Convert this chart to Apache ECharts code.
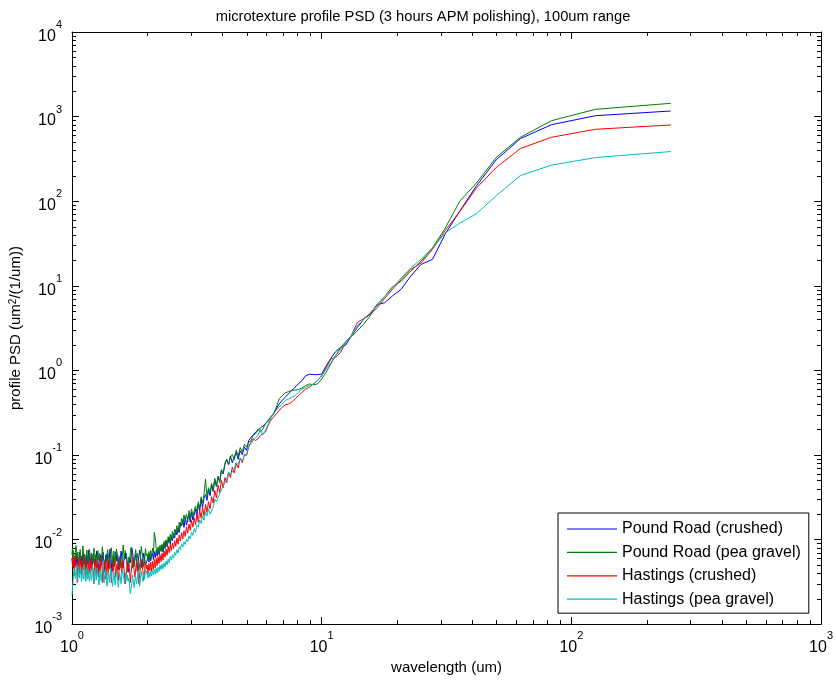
<!DOCTYPE html>
<html><head><meta charset="utf-8">
<script src="https://cdn.jsdelivr.net/npm/echarts@6/dist/echarts.min.js"></script>
<style>html,body{margin:0;padding:0;background:#fff}#c{width:836px;height:680px}</style>
</head><body><div id="c"></div>
<script>
// wavelength (um) of each PSD bin
const wavelength = [250,125,83.33,62.5,50,41.67,35.71,31.25,27.78,25,22.73,20.83,19.23,17.86,16.67,15.63,14.71,13.89,13.16,12.5,
11.9,11.36,10.87,10.42,10,9.615,9.259,8.929,8.621,8.333,8.065,7.813,7.576,7.353,7.143,6.944,6.757,6.579,6.41,6.25,
6.098,5.952,5.814,5.682,5.556,5.435,5.319,5.208,5.102,5,4.902,4.808,4.717,4.63,4.545,4.464,4.386,4.31,4.237,4.167,
4.098,4.032,3.968,3.906,3.846,3.788,3.731,3.676,3.623,3.571,3.521,3.472,3.425,3.378,3.333,3.289,3.247,3.205,3.165,3.125,
3.086,3.049,3.012,2.976,2.941,2.907,2.874,2.841,2.809,2.778,2.747,2.717,2.688,2.66,2.632,2.604,2.577,2.551,2.525,2.5,
2.475,2.451,2.427,2.404,2.381,2.358,2.336,2.315,2.294,2.273,2.252,2.232,2.212,2.193,2.174,2.155,2.137,2.119,2.101,2.083,
2.066,2.049,2.033,2.016,2,1.984,1.969,1.953,1.938,1.923,1.908,1.894,1.88,1.866,1.852,1.838,1.825,1.812,1.799,1.786,
1.773,1.761,1.748,1.736,1.724,1.712,1.701,1.689,1.678,1.667,1.656,1.645,1.634,1.623,1.613,1.603,1.592,1.582,1.572,1.563,
1.553,1.543,1.534,1.524,1.515,1.506,1.497,1.488,1.479,1.471,1.462,1.453,1.445,1.437,1.429,1.42,1.412,1.404,1.397,1.389,
1.381,1.374,1.366,1.359,1.351,1.344,1.337,1.33,1.323,1.316,1.309,1.302,1.295,1.289,1.282,1.276,1.269,1.263,1.256,1.25,
1.244,1.238,1.232,1.225,1.22,1.214,1.208,1.202,1.196,1.19,1.185,1.179,1.174,1.168,1.163,1.157,1.152,1.147,1.142,1.136,
1.131,1.126,1.121,1.116,1.111,1.106,1.101,1.096,1.092,1.087,1.082,1.078,1.073,1.068,1.064,1.059,1.055,1.05,1.046,1.042,
1.037,1.033,1.029,1.025,1.02,1.016,1.012,1.008,1.004,1];

const poundCrushed = [1164,1025,803,549,308,152,76,41,20.5,17.9,13.0,9.1,7.6,6.3,6.0,4.6,4.0,3.2,2.56,2.0,
1.87,1.66,1.38,1.13,0.90,0.89,0.89,0.90,0.86,0.755,0.69,0.63,0.575,0.526,0.48,0.44,0.40,0.35,0.305,0.28,
0.255,0.233,0.219,0.209,0.194,0.186,0.173,0.162,0.148,0.113,
0.124,0.101,0.112,0.089,0.107,0.094,0.081,0.097,0.076,0.088,
0.078,0.06,0.066,0.049,0.056,0.043,0.051,0.037,0.044,0.033,
0.039,0.029,0.034,0.031,0.024,0.03,0.022,0.026,0.019,0.023,
0.022,0.017,0.021,0.016,0.02,0.018,0.0148,0.0182,0.0139,0.0172,
0.0145,0.0158,0.0121,0.0137,0.0113,0.0129,0.0104,0.0118,0.0097,0.0111,
0.0089,0.0106,0.0093,0.0082,0.0098,0.0078,0.0091,0.0071,0.0085,0.0074,
0.0081,0.0066,0.0078,0.0064,0.0074,0.0061,0.0072,0.0058,0.0069,0.0063,0.0056,0.0067,0.0054,0.0064,0.0057,
0.006,0.005,0.0059,0.0069,0.0057,0.0046,0.0053,0.0064,0.0075,0.0062,
0.0051,0.0042,0.0055,0.0066,0.0059,0.0048,0.0057,0.0071,0.008,0.0064,
0.0053,0.006,0.005,0.0041,0.0051,0.0062,0.0069,0.0059,0.0068,0.0055,
0.0046,0.0053,0.0062,0.0073,0.006,0.005,0.0044,0.0057,0.0066,0.0055,
0.0062,0.0071,0.0059,0.0048,0.0055,0.0064,0.0051,0.0042,0.0053,0.0068,
0.0077,0.0062,0.0055,0.0046,0.0059,0.0068,0.0057,0.0066,0.0053,0.0044,
0.0055,0.006,0.0071,0.0059,0.005,0.0057,0.0066,0.0055,0.0062,0.0051,
0.0041,0.0053,0.0064,0.0073,0.006,0.0051,0.0059,0.0048,0.0057,0.0068,
0.0059,0.005,0.006,0.0069,0.0055,0.0046,0.0053,0.0062,0.0075,0.006,
0.0051,0.0057,0.0064,0.0053,0.0044,0.0055,0.0066,0.0059,0.005,0.006,
0.0069,0.0057,0.0048,0.0055,0.0064,0.0053,0.006,0.0071,0.0059,0.005,
0.0044,0.0055,0.0062,0.0051,0.0059,0.0068,0.0057,0.0048,0.0053,0.0062,
0.0055,0.0046,0.0057,0.005,0.006];

const poundPea = [1435,1219,895,570,328,164,99.5,48,28,19.5,14.9,11.35,9.75,7.45,6.0,4.4,3.5,2.93,2.5,2.2,
1.85,1.49,1.19,0.95,0.79,0.69,0.675,0.69,0.66,0.62,0.59,0.585,0.575,0.56,0.54,0.50,0.46,0.366,0.305,0.28,
0.25,0.235,0.203,0.186,0.203,0.178,0.17,0.148,0.142,0.124,
0.134,0.108,0.122,0.097,0.114,0.088,0.101,0.094,0.077,0.089,
0.08,0.06,0.067,0.047,0.055,0.042,0.053,0.038,0.046,0.036,
0.041,0.032,0.052,0.034,0.027,0.032,0.023,0.028,0.021,0.025,
0.024,0.019,0.023,0.018,0.022,0.016,0.02,0.017,0.0195,0.015,
0.0178,0.0139,0.016,0.0123,0.0146,0.0115,0.0133,0.0104,0.0125,0.0099,
0.0115,0.0092,0.0108,0.0086,0.0099,0.0081,0.0095,0.0075,0.0088,0.0072,
0.0086,0.007,0.0082,0.0066,0.0078,0.0104,0.0122,0.0069,0.0079,0.0062,0.0074,0.0058,0.0072,0.0056,0.0068,
0.0064,0.0078,0.0055,0.0047,0.0061,0.0072,0.0083,0.0058,0.005,0.0043,
0.0056,0.0069,0.0059,0.0076,0.0064,0.0049,0.0057,0.0046,0.0066,0.0081,
0.007,0.0055,0.0062,0.005,0.0042,0.0055,0.0066,0.0074,0.0058,0.0068,
0.0086,0.0065,0.0053,0.0046,0.0058,0.0063,0.0051,0.0044,0.0057,0.0071,
0.0077,0.0063,0.0052,0.006,0.0073,0.0049,0.0058,0.0069,0.008,0.006,
0.005,0.0045,0.0058,0.0067,0.0076,0.0062,0.0054,0.0064,0.0049,0.0041,
0.0055,0.0061,0.0072,0.0082,0.0065,0.0056,0.0047,0.0059,0.0069,0.0057,
0.0062,0.0074,0.0054,0.0045,0.0052,0.0066,0.0059,0.007,0.0079,0.0063,
0.0053,0.0058,0.0067,0.0056,0.0046,0.0055,0.0069,0.0077,0.006,0.005,
0.0058,0.0064,0.0075,0.0062,0.0053,0.0044,0.0057,0.0067,0.0059,0.0071,
0.0084,0.0067,0.0057,0.0049,0.0056,0.0064,0.0076,0.0062,0.0054,0.0047,
0.006,0.0071,0.0057,0.0066,0.0077,0.0085,0.007,0.0058,0.0063,0.0055,
0.0067,0.0074,0.0061,0.0079,0.0066];

const hastingsCrushed = [796,708,570,419,250,143,75,45,26.9,18.6,15.6,11.9,9.1,7.05,5.5,4.6,4.1,3.67,2.6,2.14,
1.63,1.42,1.36,1.08,0.86,0.755,0.69,0.63,0.60,0.55,0.50,0.46,0.42,0.40,0.39,0.366,0.334,0.305,0.28,0.255,
0.222,0.186,0.178,0.17,0.155,0.148,0.155,0.142,0.124,0.099,
0.102,0.081,0.092,0.07,0.079,0.061,0.072,0.054,0.062,0.047,
0.054,0.041,0.05,0.036,0.044,0.031,0.038,0.027,0.032,0.023,
0.028,0.021,0.026,0.019,0.024,0.018,0.022,0.016,0.02,0.015,
0.018,0.014,0.0168,0.0128,0.0152,0.0119,0.0141,0.0109,0.0127,0.0102,
0.0121,0.0096,0.0113,0.0088,0.0104,0.0083,0.0097,0.0078,0.0091,0.0074,
0.0088,0.007,0.0083,0.0065,0.0077,0.0062,0.0073,0.0057,0.0069,0.0055,
0.0066,0.0052,0.0063,0.0049,0.006,0.0046,0.0058,0.0044,0.0055,0.0042,0.0054,0.0043,0.0052,0.0039,0.005,
0.0045,0.0054,0.0042,0.0033,0.0043,0.0051,0.0058,0.0047,0.0038,0.003,
0.004,0.0049,0.0056,0.0045,0.0036,0.0043,0.0052,0.0061,0.0049,0.004,
0.0031,0.0042,0.0051,0.0045,0.0054,0.0043,0.0034,0.003,0.0038,0.0047,
0.0056,0.0049,0.004,0.0047,0.0058,0.0051,0.0042,0.0033,0.0043,0.0052,
0.0045,0.0036,0.0047,0.006,0.0051,0.0042,0.0049,0.004,0.0031,0.0042,
0.0051,0.0058,0.0047,0.0038,0.0045,0.0054,0.0043,0.0034,0.0045,0.0056,
0.0049,0.004,0.0031,0.0043,0.0052,0.0061,0.0049,0.0042,0.0051,0.0043,
0.0036,0.0047,0.0056,0.0045,0.0038,0.0049,0.0058,0.0047,0.004,0.003,
0.0042,0.0051,0.0043,0.0052,0.006,0.0049,0.004,0.0047,0.0054,0.0045,
0.0036,0.0047,0.0056,0.0051,0.0042,0.0033,0.0045,0.0054,0.0063,0.0051,
0.0043,0.0052,0.0045,0.0038,0.0049,0.0058,0.0047,0.004,0.0051,0.006,
0.0049,0.0042,0.0031,0.0045,0.0054,0.0047,0.0056,0.0065,0.0052,0.0043,
0.0051,0.0058,0.0047,0.0062,0.0056];

const hastingsPea = [386,328,267,201,116,71,55,42,28,20.5,16.3,12.4,9.5,7.45,5.77,4.82,4.0,3.35,2.56,2.14,
1.75,1.49,1.24,1.035,0.86,0.755,0.69,0.66,0.63,0.60,0.55,0.50,0.48,0.46,0.44,0.40,0.37,0.335,0.31,0.27,
0.23,0.194,0.173,0.2,0.17,0.16,0.148,0.135,0.13,0.099,
0.099,0.085,0.092,0.077,0.081,0.068,0.071,0.059,0.063,0.051,
0.053,0.043,0.044,0.035,0.034,0.028,0.03,0.024,0.025,0.02,
0.023,0.019,0.021,0.017,0.019,0.0155,0.017,0.014,0.0148,0.0122,
0.0135,0.0112,0.0122,0.0102,0.011,0.0094,0.0101,0.0087,0.0094,0.0081,
0.0089,0.0076,0.0082,0.0069,0.0076,0.0065,0.0071,0.006,0.0066,0.0057,
0.0063,0.0053,0.0059,0.005,0.0056,0.0047,0.0053,0.0045,0.0051,0.0044,
0.005,0.0042,0.0047,0.004,0.0046,0.0039,0.0044,0.0038,0.0043,0.0037,0.0042,0.0036,0.0041,0.0035,0.0039,
0.0038,0.0044,0.0034,0.0039,0.0032,0.0036,0.0042,0.0034,0.0028,0.0036,
0.0043,0.0035,0.003,0.0036,0.0033,0.0027,0.0032,0.0038,0.003,0.0026,
0.0023,0.0028,0.0035,0.0032,0.0038,0.0033,0.0041,0.0036,0.003,0.0035,
0.0038,0.0045,0.0037,0.003,0.0035,0.004,0.0033,0.0027,0.0032,0.0038,
0.0042,0.0034,0.0029,0.0036,0.0041,0.0033,0.0028,0.0034,0.0039,0.0046,
0.0038,0.0031,0.0036,0.0042,0.0034,0.0028,0.0033,0.0039,0.0044,0.0036,
0.0031,0.0037,0.0042,0.0048,0.0039,0.0032,0.0037,0.0043,0.0035,0.0029,
0.0033,0.004,0.0046,0.0038,0.0033,0.004,0.0044,0.0036,0.003,0.0035,
0.0041,0.0049,0.004,0.0033,0.0038,0.0044,0.0036,0.0032,0.0038,0.0043,
0.0034,0.004,0.0046,0.0038,0.0032,0.0038,0.0045,0.0051,0.004,0.0034,
0.0038,0.0045,0.0037,0.0032,0.0038,0.0046,0.0042,0.0035,0.004,0.0048,
0.0038,0.0032,0.0037,0.0043,0.005,0.004,0.0034,0.0038,0.0045,0.0037,
0.0042,0.0035,0.003,0.0026,0.0022];

const seriesNames = ['Pound Road (crushed)','Pound Road (pea gravel)','Hastings (crushed)','Hastings (pea gravel)'];
const seriesValues = [poundCrushed, poundPea, hastingsCrushed, hastingsPea];
const seriesColors = ['#0000ff','#008000','#ff0000','#00bfbf'];
const xRange = [1, 1000];
const yRange = [0.001, 10000];
const minorMultipliers = [2,3,4,5,6,7,8,9];

const FONT = '"Liberation Sans", Arial, Helvetica, sans-serif';
const chart = echarts.init(document.getElementById('c'), null, {renderer: 'canvas'});

const powRich = {
  b: {fontSize: 16, fontFamily: FONT, color: '#000', verticalAlign: 'bottom'},
  s: {fontSize: 11, fontFamily: FONT, color: '#000', verticalAlign: 'top', padding: [0, 0, 14, 0]}
};
function powLabel(v) {
  const e = Math.round(Math.log10(v));
  return '{b|10}{s|' + e + '}';
}
const G = {left: 72, right: 11, top: 32, bottom: 54};

function baseAxis(extra) {
  return Object.assign({
    type: 'log', logBase: 10,
    axisLine: {show: true, lineStyle: {color: '#000', width: 1}},
    axisTick: {show: true, inside: true, length: 7, lineStyle: {color: '#000', width: 1}},
    splitLine: {show: false},
    minorTick: {show: false}
  }, extra);
}

const option = {
  animation: false,
  backgroundColor: '#fff',
  title: {
    text: 'microtexture profile PSD (3 hours APM polishing), 100um range',
    left: 418, top: 4, textAlign: 'center',
    textStyle: {fontSize: 14.7, fontWeight: 'normal', color: '#000', fontFamily: FONT}
  },
  grid: G,
  legend: {
    orient: 'vertical', left: 558, top: 513,
    padding: [8, 8, 6, 9],
    icon: 'rect',
    itemWidth: 50, itemHeight: 1.2, itemGap: 7.4,
    backgroundColor: '#fff', borderColor: '#000', borderWidth: 1,
    textStyle: {fontSize: 16, lineHeight: 14, color: '#000', fontFamily: FONT},
    data: seriesNames
  },
  xAxis: [
    baseAxis({min: xRange[0], max: xRange[1], splitNumber: 3, position: 'bottom',
      name: 'wavelength (um)', nameLocation: 'middle', nameGap: 32,
      nameTextStyle: {fontSize: 15, color: '#000', fontFamily: FONT},
      axisLabel: {margin: 6, formatter: powLabel, rich: powRich}}),
    baseAxis({min: xRange[0], max: xRange[1], splitNumber: 3, position: 'top', axisLabel: {show: false}})
  ],
  yAxis: [
    baseAxis({min: yRange[0], max: yRange[1], splitNumber: 7, position: 'left',
      name: 'profile PSD (um{s|2}/(1/um))', nameLocation: 'middle', nameGap: 40,
      nameTextStyle: {fontSize: 15, color: '#000', fontFamily: FONT,
        rich: {s: {fontSize: 10, fontFamily: FONT, color: '#000', verticalAlign: 'top'}}},
      axisLabel: {margin: 10, formatter: powLabel, rich: powRich}}),
    baseAxis({min: yRange[0], max: yRange[1], splitNumber: 7, position: 'right', axisLabel: {show: false}})
  ],
  series: seriesNames.map((name, i) => ({
    name, type: 'line', xAxisIndex: 0, yAxisIndex: 0,
    showSymbol: false, symbol: 'none', smooth: false,
    lineStyle: {color: seriesColors[i], width: 1},
    itemStyle: {color: seriesColors[i]},
    emphasis: {disabled: true},
    data: wavelength.map((w, j) => [w, seriesValues[i][j]]).filter(p => p[1] !== undefined)
  }))
};
chart.setOption(option);

// minor ticks at 2..9 x 10^n on all four sides, positioned through the axis scales
const x0 = chart.convertToPixel({xAxisIndex: 0}, xRange[0]);
const x1 = chart.convertToPixel({xAxisIndex: 0}, xRange[1]);
const yB = chart.convertToPixel({yAxisIndex: 0}, yRange[0]);
const yT = chart.convertToPixel({yAxisIndex: 0}, yRange[1]);
const ML = 4;
const els = [];
const ls = {stroke: '#000', lineWidth: 1};
for (let d = xRange[0]; d < xRange[1]; d *= 10) {
  minorMultipliers.forEach(m => {
    const px = Math.round(chart.convertToPixel({xAxisIndex: 0}, d * m)) + 0.5;
    els.push({type: 'line', shape: {x1: px, y1: yB, x2: px, y2: yB - ML}, style: ls, silent: true});
    els.push({type: 'line', shape: {x1: px, y1: yT, x2: px, y2: yT + ML}, style: ls, silent: true});
  });
}
for (let d = yRange[0]; d < yRange[1] * 0.999; d *= 10) {
  minorMultipliers.forEach(m => {
    const py = Math.round(chart.convertToPixel({yAxisIndex: 0}, d * m)) + 0.5;
    els.push({type: 'line', shape: {x1: x0, y1: py, x2: x0 + ML, y2: py}, style: ls, silent: true});
    els.push({type: 'line', shape: {x1: x1, y1: py, x2: x1 - ML, y2: py}, style: ls, silent: true});
  });
}
chart.setOption({graphic: {elements: els}});
</script>
</body></html>
